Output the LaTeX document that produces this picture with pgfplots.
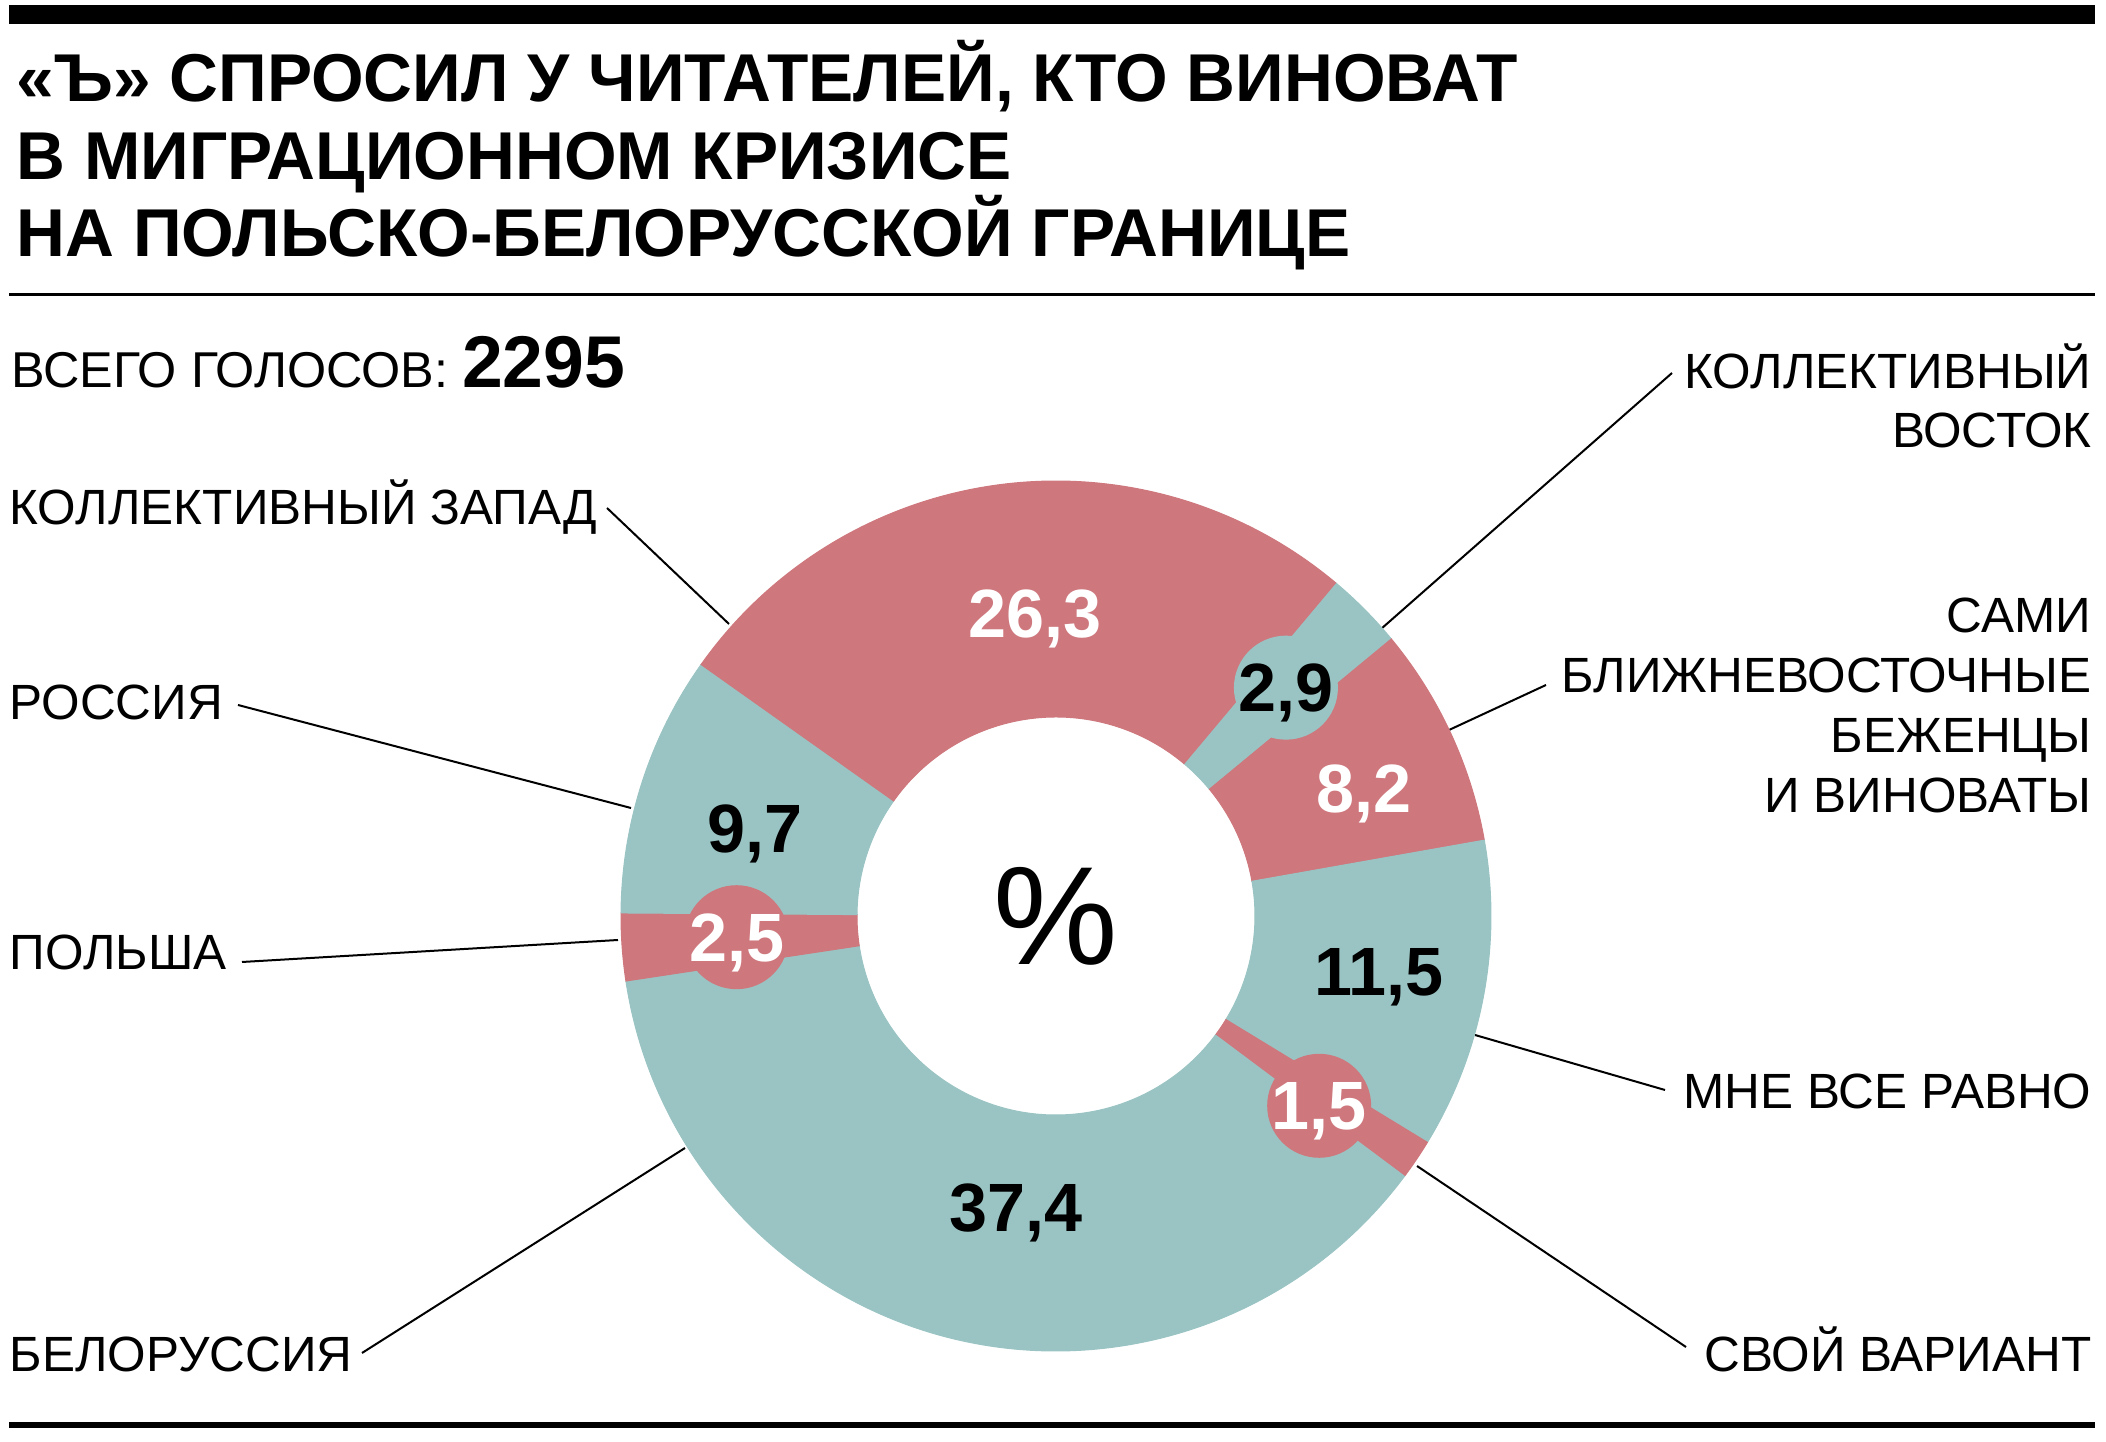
\documentclass[border=0pt]{standalone}
\usepackage{pgfplots}
\pgfplotsset{compat=1.18}
\usepackage{pgfplotstable}
\usepackage{fontspec}
\setmainfont{Liberation Sans}
\definecolor{cred}{RGB}{206,119,125}
\definecolor{cteal}{RGB}{154,196,195}
\pgfkeys{/pgf/number format/assume math mode=true}

% slices clockwise from 50 degrees; la/lr = label angle and radius (share of outer radius)
\pgfplotstableread{
val   col   txt   la     lr
2.9   cteal black 44.8   0.745
8.2   cred  white 22.4   0.766
11.5  cteal black -9.8   0.754
1.5   cred  white -35.8  0.746
37.4  cteal black -97.8  0.676
2.5   cred  white 183.8  0.736
9.7   cteal black 163.9  0.720
26.3  cred  white 94.0   0.697
}\donutdata

\def\Ro{130.5}% outer radius, pt
\def\Ri{59.7}%  inner radius, pt
\newcommand\lab{\fontsize{14.85pt}{18pt}\selectfont}
\newcommand\num{\fontsize{20.5pt}{22pt}\selectfont\bfseries}

\begin{document}
\begin{tikzpicture}
\begin{scope}[x=0.3pt,y=-0.3pt,yshift=432.6pt]
\path (0,0) rectangle (2106,1442);
% rules
\fill (9,5) rectangle (2095,24);
\fill (9,293) rectangle (2095,296.5);
\fill (9,1422.5) rectangle (2095,1428.5);
% title
\begin{scope}[every node/.style={anchor=base west,inner sep=0pt,font=\fontsize{20.3pt}{24pt}\selectfont\bfseries}]
\node at (16,102) {«Ъ» СПРОСИЛ У ЧИТАТЕЛЕЙ, КТО ВИНОВАТ};
\node at (16,180) {В МИГРАЦИОННОМ КРИЗИСЕ};
\node at (16,257) {НА ПОЛЬСКО-БЕЛОРУССКОЙ ГРАНИЦЕ};
\end{scope}
\node[anchor=base west,inner sep=0pt] at (11,388) {\fontsize{15.1pt}{18pt}\selectfont ВСЕГО ГОЛОСОВ: {\fontsize{22pt}{24pt}\selectfont\bfseries 2295}};
% category labels
\begin{scope}[every node/.style={inner sep=0pt,font=\lab}]
\node[anchor=base west] at (9,524.5) {КОЛЛЕКТИВНЫЙ ЗАПАД};
\node[anchor=base west] at (9,720) {РОССИЯ};
\node[anchor=base west] at (9,969.5) {ПОЛЬША};
\node[anchor=base west] at (9,1372) {БЕЛОРУССИЯ};
\node[anchor=base east] at (2092,388.5) {КОЛЛЕКТИВНЫЙ};
\node[anchor=base east] at (2092,448) {ВОСТОК};
\node[anchor=base east] at (2092,633) {САМИ};
\node[anchor=base east] at (2092,693) {БЛИЖНЕВОСТОЧНЫЕ};
\node[anchor=base east] at (2092,753) {БЕЖЕНЦЫ};
\node[anchor=base east] at (2092,813) {И ВИНОВАТЫ};
\node[anchor=base east] at (2092,1109) {МНЕ ВСЕ РАВНО};
\node[anchor=base east] at (2092,1372) {СВОЙ ВАРИАНТ};
\end{scope}
% leader lines
\begin{scope}[line width=0.6pt]
\draw (607,508) -- (729,624);
\draw (238,705) -- (631,808);
\draw (242,962) -- (618,940);
\draw (362,1353) -- (685,1148);
\draw (1381,629) -- (1672,373);
\draw (1449,730) -- (1546,685);
\draw (1475,1035) -- (1665,1090);
\draw (1417,1166) -- (1686,1347);
\end{scope}
\end{scope}

\begin{axis}[
  at={(316.8pt,157.8pt)}, anchor=center,
  x=\Ro pt, y=\Ro pt,
  xmin=-1, xmax=1, ymin=-1, ymax=1,
  hide axis, clip=false,
]
\pgfplotsextra{
  \pgfplotstablegetrowsof{\donutdata}
  \pgfmathtruncatemacro\nlast{\pgfplotsretval-1}
  \xdef\curang{50}
  \foreach \i in {0,...,\nlast}{
    \pgfplotstablegetelem{\i}{val}\of\donutdata \let\sv\pgfplotsretval
    \pgfplotstablegetelem{\i}{col}\of\donutdata \let\scol\pgfplotsretval
    \pgfmathsetmacro\sa{\curang}
    \pgfmathsetmacro\sb{\curang-3.6*\sv}
    \fill[fill=\scol, draw=\scol, line width=0.3pt]
      ([shift={(\sa:\Ro pt)}]axis cs:0,0) arc[start angle=\sa, end angle=\sb, radius=\Ro pt]
      -- ([shift={(\sb:\Ri pt)}]axis cs:0,0) arc[start angle=\sb, end angle=\sa, radius=\Ri pt] -- cycle;
    \xdef\curang{\sb}
  }
  \foreach \i in {0,...,\nlast}{
    \pgfplotstablegetelem{\i}{val}\of\donutdata \let\sv\pgfplotsretval
    \pgfplotstablegetelem{\i}{col}\of\donutdata \let\scol\pgfplotsretval
    \pgfplotstablegetelem{\i}{txt}\of\donutdata \let\stxt\pgfplotsretval
    \pgfplotstablegetelem{\i}{la}\of\donutdata \let\sla\pgfplotsretval
    \pgfplotstablegetelem{\i}{lr}\of\donutdata \let\slr\pgfplotsretval
    \pgfmathsetmacro\lrad{\slr*\Ro}
    \pgfmathparse{\sv<3?1:0}
    \ifnum\pgfmathresult=1
      \fill[fill=\scol] ([shift={(\sla:\lrad pt)}]axis cs:0,0) circle[radius=15.6pt];
    \fi
    \node[text=\stxt, inner sep=0pt, text depth=0pt, anchor=center, font=\num]
      at ([shift={(\sla:\lrad pt)}]axis cs:0,0)
      {\pgfmathprintnumber[fixed,precision=1,fixed zerofill,use comma]{\sv}};
  }
}
\node[font=\fontsize{42pt}{46pt}\selectfont, inner sep=0pt, text depth=0pt] at (axis cs:0,0) {\%};
\end{axis}
\end{tikzpicture}
\end{document}
